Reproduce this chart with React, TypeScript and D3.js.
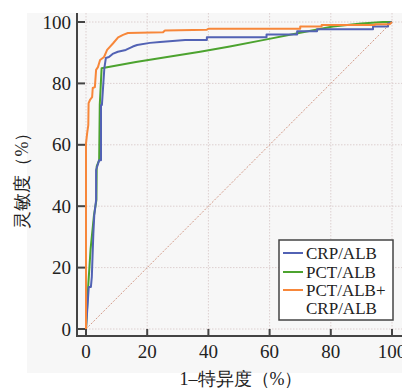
import React, { useEffect, useRef } from 'react';
import * as d3 from 'd3';

// ROC curves: [1-specificity %, sensitivity %]
const crpAlb: [number, number][] = [
  [0, 0], [0.9, 13.7], [1.6, 13.7], [1.9, 17], [2.4, 31], [2.7, 37], [3.3, 42], [3.3, 51.8],
  [4.3, 55], [4.9, 55], [4.9, 73], [5.2, 73], [6, 85], [6.5, 88.3], [7.5, 88.6], [8.7, 89.6],
  [10.4, 90.3], [13, 90.9], [15.3, 92], [16.7, 92.5], [20.9, 93.2], [24.2, 93.5], [32.4, 94.1],
  [39.5, 94.1], [39.5, 95], [59, 95], [59, 95.9], [69, 95.9], [69, 97], [75.5, 97], [75.5, 97.6],
  [93.8, 97.6], [93.8, 98.5], [98.7, 98.5], [98.7, 99.5], [100, 100],
];

const pctAlb: [number, number][] = [
  [0, 0], [0.7, 13.7], [1.5, 26], [2.6, 37], [3.4, 42], [3.5, 53], [4.3, 55], [4.5, 73],
  [5.1, 84.9], [16.3, 87], [26, 88.5], [37.3, 90.3], [47, 92], [57.8, 94.1], [70, 96.5],
  [80.7, 98.5], [90, 99.5], [97, 100], [100, 100],
];

const combined: [number, number][] = [
  [0, 0], [0, 60.5], [0.4, 64], [0.75, 66.4], [0.85, 73.6], [1.3, 74.6], [2, 75.5], [2.2, 78.5],
  [2.9, 78.8], [3.3, 84.4], [3.9, 85.3], [4.6, 87.6], [5.9, 88.6], [6.9, 90.9], [7.8, 91.9],
  [8.8, 93], [10.5, 95], [12.1, 95.8], [13.7, 96.4], [25.2, 96.7], [25.8, 97.2], [39.5, 97.5],
  [40, 97.8], [70, 97.8], [70, 98.5], [77, 98.5], [77, 99], [94.4, 99], [94.4, 99.3],
  [99.3, 99.3], [100, 100],
];

const ticks = [0, 20, 40, 60, 80, 100];
const seriesNames = ['CRP/ALB', 'PCT/ALB', 'PCT/ALB+'];
const seriesColors = ['#5262b4', '#4ca32f', '#f7873a'];

const App = () => {
  const svgRef = useRef<SVGSVGElement>(null);

  useEffect(() => {
    const svg = d3.select(svgRef.current);
    svg.selectAll('*').remove();

    const x = d3.scaleLinear().domain([0, 100]).range([86, 392]);
    const y = d3.scaleLinear().domain([0, 100]).range([329, 22]);
    const serif = '"Liberation Serif", "Times New Roman", serif';

    svg.append('rect')
      .attr('x', 27).attr('y', 13).attr('width', 375).attr('height', 360)
      .attr('fill', '#f7f7f7');

    // grid
    const grid = svg.append('g').attr('stroke', '#dccfcf').attr('stroke-width', 1)
      .attr('stroke-dasharray', '1.5,1.5');
    ticks.forEach(t => {
      grid.append('line').attr('x1', x(t)).attr('x2', x(t)).attr('y1', 13).attr('y2', 336);
      grid.append('line').attr('x1', 77).attr('x2', 402).attr('y1', y(t)).attr('y2', y(t));
    });

    // chance line
    svg.append('line')
      .attr('x1', x(0)).attr('y1', y(0)).attr('x2', x(100)).attr('y2', y(100))
      .attr('stroke', '#d39a88').attr('stroke-width', 1).attr('stroke-dasharray', '2,1.5');

    const line = d3.line<[number, number]>().x(d => x(d[0])).y(d => y(d[1]));
    [pctAlb, crpAlb, combined].forEach((data, i) => {
      const colorIdx = [1, 0, 2][i];
      svg.append('path').datum(data)
        .attr('d', line)
        .attr('fill', 'none')
        .attr('stroke', seriesColors[colorIdx])
        .attr('stroke-width', 2)
        .attr('stroke-linejoin', 'round');
    });

    // axes
    const axisColor = '#444';
    svg.append('line').attr('x1', 77).attr('x2', 77).attr('y1', 13).attr('y2', 337)
      .attr('stroke', axisColor).attr('stroke-width', 2);
    svg.append('line').attr('x1', 76).attr('x2', 402).attr('y1', 336).attr('y2', 336)
      .attr('stroke', axisColor).attr('stroke-width', 2);

    ticks.forEach(t => {
      svg.append('line').attr('x1', 77).attr('x2', 85).attr('y1', y(t)).attr('y2', y(t))
        .attr('stroke', axisColor).attr('stroke-width', 2);
      svg.append('line').attr('x1', x(t)).attr('x2', x(t)).attr('y1', 336).attr('y2', 329)
        .attr('stroke', axisColor).attr('stroke-width', 2);
      svg.append('text').attr('x', 71).attr('y', y(t)).attr('dy', '0.35em')
        .attr('text-anchor', 'end').attr('font-family', serif).attr('font-size', 19)
        .attr('fill', '#222').text(t);
      svg.append('text').attr('x', x(t)).attr('y', 358)
        .attr('text-anchor', 'middle').attr('font-family', serif).attr('font-size', 19)
        .attr('fill', '#222').text(t);
    });

    svg.append('text').attr('x', 241).attr('y', 385).attr('text-anchor', 'middle')
      .attr('font-family', serif).attr('font-size', 18).attr('fill', '#222')
      .text('1–特异度（%）');
    svg.append('text').attr('transform', 'translate(28,176) rotate(-90)')
      .attr('text-anchor', 'middle')
      .attr('font-family', serif).attr('font-size', 18).attr('fill', '#222')
      .text('灵敏度（%）');

    // legend
    const lg = svg.append('g');
    lg.append('rect').attr('x', 279).attr('y', 240).attr('width', 114).attr('height', 80)
      .attr('fill', '#fff').attr('stroke', '#444').attr('stroke-width', 1.5);
    const rowY = [253, 272, 290];
    seriesNames.forEach((name, i) => {
      lg.append('line').attr('x1', 283).attr('x2', 303).attr('y1', rowY[i]).attr('y2', rowY[i])
        .attr('stroke', seriesColors[i]).attr('stroke-width', 2);
      lg.append('text').attr('x', 306).attr('y', rowY[i]).attr('dy', '0.35em')
        .attr('font-family', serif).attr('font-size', 17).attr('fill', '#222').text(name);
    });
    lg.append('text').attr('x', 306).attr('y', 308).attr('dy', '0.35em')
      .attr('font-family', serif).attr('font-size', 17).attr('fill', '#222').text('CRP/ALB');
  }, []);

  return (
    <svg ref={svgRef} width={402} height={389}
      style={{ position: 'absolute', left: 0, top: 0 }} />
  );
};

export default App;
